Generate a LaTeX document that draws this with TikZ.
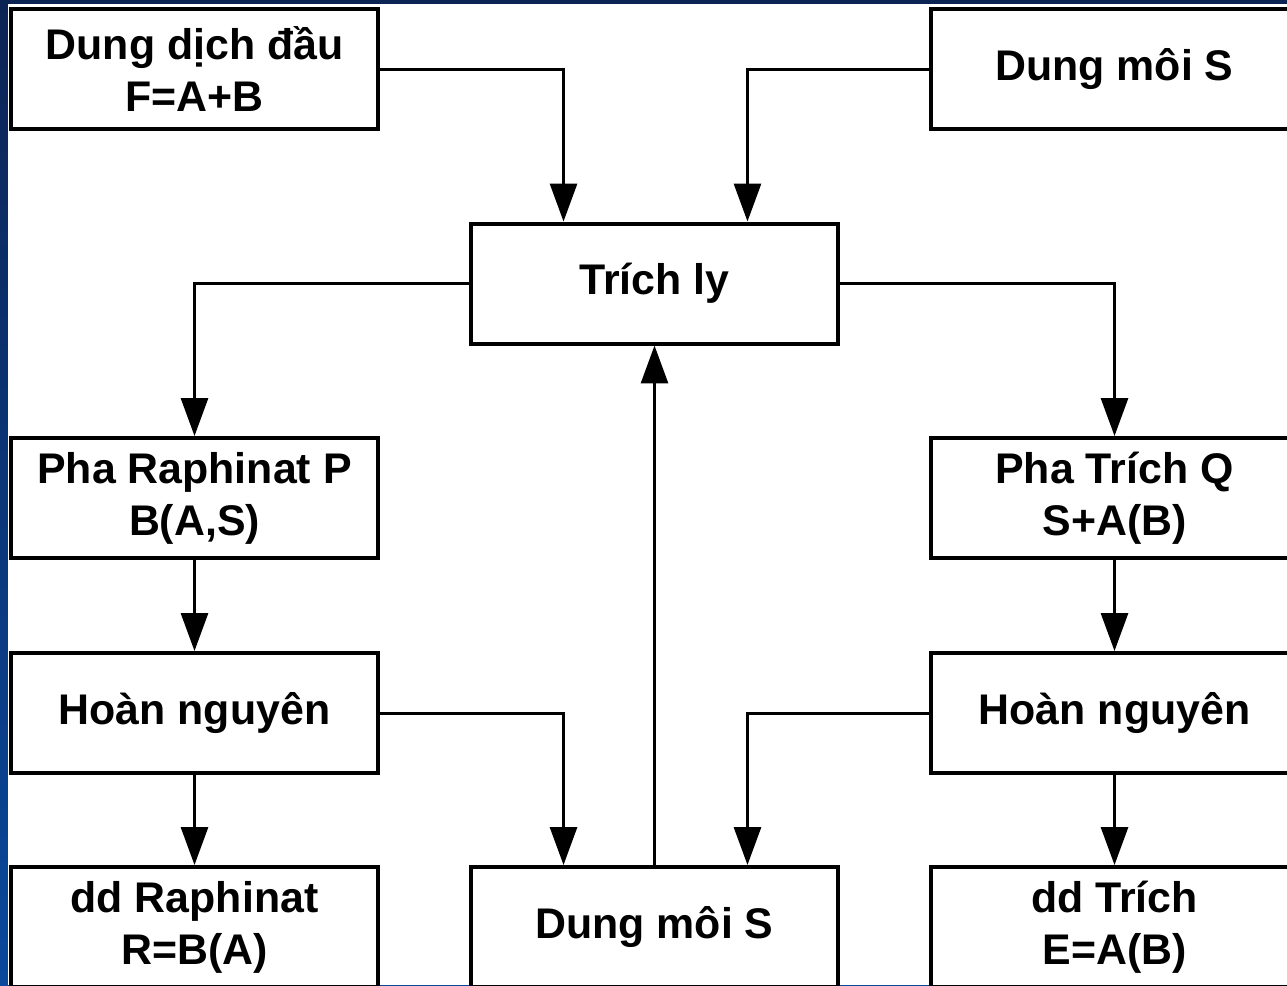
\documentclass[tikz,border=0pt]{standalone}
\usepackage{fontspec}
\setmainfont{Liberation Sans}
\usetikzlibrary{arrows.meta}
\definecolor{navy}{RGB}{12,36,84}
\definecolor{slideblue}{RGB}{10,72,156}
\tikzset{box/.style={draw,line width=0.08cm,fill=white,minimum width=7.34cm,minimum height=2.4cm,align=center,font=\fontsize{24.4}{29.5}\selectfont\bfseries},
arr/.style={line width=0.06cm,-{Triangle[length=0.76cm,width=0.54cm]}}}
\begin{document}
\begin{tikzpicture}[x=0.02cm,y=-0.02cm]
\useasboundingbox(0,0) rectangle (1287,985);
\clip(0,0) rectangle (1287,985);
\shade[top color=navy,bottom color=slideblue](0,0) rectangle (1287,985);
\fill[white](8,4) rectangle (1287,985);
\node[box](F) at (194.5,69){Dung dịch đầu\\F=A+B};
\node[box](Stop) at (1114.5,69){Dung môi S};
\node[box](trich) at (654.5,283.5){Trích ly};
\node[box](P) at (194.5,498){Pha Raphinat P\\B(A,S)};
\node[box](Q) at (1114.5,498){Pha Trích Q\\S+A(B)};
\node[box](HL) at (194.5,713){Hoàn nguyên};
\node[box](HR) at (1114.5,713){Hoàn nguyên};
\node[box](R) at (194.5,927){dd Raphinat\\R=B(A)};
\node[box](Sbot) at (654.5,927){Dung môi S};
\node[box](E) at (1114.5,927){dd Trích\\E=A(B)};
\draw[arr](F) -| ([xshift=-1.82cm]trich.north);
\draw[arr](Stop) -| ([xshift=1.86cm]trich.north);
\draw[arr](trich) -| (P);
\draw[arr](trich) -| (Q);
\draw[arr](HL) -| ([xshift=-1.82cm]Sbot.north);
\draw[arr](HR) -| ([xshift=1.86cm]Sbot.north);
\foreach \a/\b in {P/HL,Q/HR,HL/R,HR/E,Sbot/trich}{\draw[arr](\a)--(\b);}
\end{tikzpicture}
\end{document}
